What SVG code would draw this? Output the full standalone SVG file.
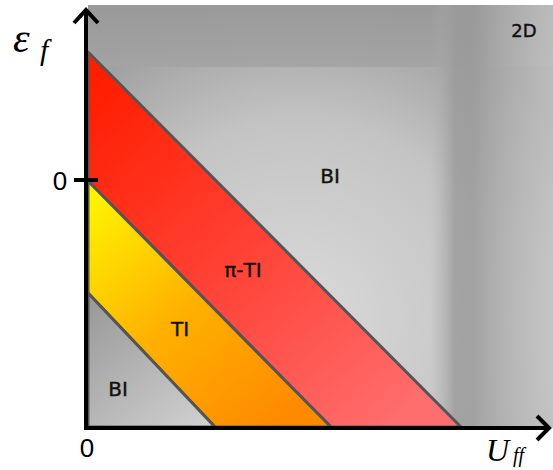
<svg xmlns="http://www.w3.org/2000/svg" width="553" height="470" viewBox="0 0 553 470">
<style>
.lbl{font-family:"DejaVu Sans","Liberation Sans",sans-serif;font-size:20px;fill:#111;stroke:#111;stroke-width:0.4;text-anchor:middle}
.num{font-family:"Liberation Sans","DejaVu Sans",sans-serif;font-size:26px;fill:#000;text-anchor:middle}
.ax{font-family:"Liberation Serif","DejaVu Serif",serif;font-style:italic;fill:#000}
.edge{stroke:#555;stroke-width:3;stroke-linejoin:round}
.axis{stroke:#000;stroke-width:4;fill:none;stroke-linecap:butt}
</style>
<defs>
<radialGradient id="bg" cx="300" cy="320" r="330" gradientUnits="userSpaceOnUse">
<stop offset="0" stop-color="#dadada"/>
<stop offset="0.6" stop-color="#c4c4c4"/>
<stop offset="1" stop-color="#9c9c9c"/>
</radialGradient>
<linearGradient id="top" x1="0" y1="5" x2="0" y2="70" gradientUnits="userSpaceOnUse">
<stop offset="0" stop-color="#999"/>
<stop offset="1" stop-color="#a4a4a4"/>
</linearGradient>
<linearGradient id="vband" x1="430" y1="0" x2="553" y2="0" gradientUnits="userSpaceOnUse">
<stop offset="0" stop-color="#b0b0b0" stop-opacity="0"/>
<stop offset="0.2" stop-color="#9a9a9a" stop-opacity="0.8"/>
<stop offset="0.35" stop-color="#999" stop-opacity="0.8"/>
<stop offset="1" stop-color="#d0d0d0" stop-opacity="0.6"/>
</linearGradient>
<linearGradient id="red" x1="100" y1="80" x2="400" y2="420" gradientUnits="userSpaceOnUse">
<stop offset="0" stop-color="#ff1e00"/>
<stop offset="0.5" stop-color="#ff4236"/>
<stop offset="1" stop-color="#ff6e6e"/>
</linearGradient>
<linearGradient id="yel" x1="95" y1="200" x2="280" y2="420" gradientUnits="userSpaceOnUse">
<stop offset="0" stop-color="#fff200"/>
<stop offset="0.5" stop-color="#ffb000"/>
<stop offset="1" stop-color="#ff8a00"/>
</linearGradient>
<linearGradient id="gray" x1="90" y1="300" x2="200" y2="426" gradientUnits="userSpaceOnUse">
<stop offset="0" stop-color="#999"/>
<stop offset="1" stop-color="#cfcfcf"/>
</linearGradient>
</defs>
<g id="background">
<rect x="88" y="5" width="465" height="423" fill="url(#bg)"/>
<rect x="88" y="5" width="465" height="62" fill="url(#top)" opacity="0.9"/>
<rect x="430" y="5" width="123" height="423" fill="url(#vband)"/>
</g>
<g id="pi-TI">
<polygon class="edge" points="88,52 461,427 331,427 88,181" fill="url(#red)"/>
<text class="lbl" x="243" y="277">π-TI</text>
</g>
<g id="TI">
<polygon class="edge" points="88,181 331,427 215,427 88,293" fill="url(#yel)"/>
<text class="lbl" x="180" y="336">TI</text>
</g>
<g id="BI-low">
<polygon class="edge" points="88,293 215,427 88,427" fill="url(#gray)"/>
<text class="lbl" x="118" y="396">BI</text>
</g>
<g id="BI-high">
<text class="lbl" x="330" y="183">BI</text>
</g>
<g id="label-2D">
<text class="lbl" x="524" y="37" style="font-size:18px">2D</text>
</g>
<g id="connectors">
<line class="axis" x1="86" y1="430" x2="86" y2="10"/>
<polyline class="axis" points="74,23 86,10 98,23" stroke-linejoin="miter"/>
<line class="axis" x1="84" y1="428" x2="549" y2="428"/>
<polyline class="axis" points="537,416 549,428 537,440" stroke-linejoin="miter"/>
<line class="axis" x1="74" y1="180" x2="98" y2="180" stroke-width="3"/>
</g>
<g id="axis-labels">
<text class="num" x="60" y="190">0</text>
<text class="num" x="87" y="457">0</text>
<text class="ax" x="13" y="52" font-size="42">ε</text>
<text class="ax" x="40" y="60" font-size="30">f</text>
<text class="ax" x="486" y="461" font-size="32">U</text>
<text class="ax" x="513" y="462" font-size="20">ff</text>
</g>
</svg>
